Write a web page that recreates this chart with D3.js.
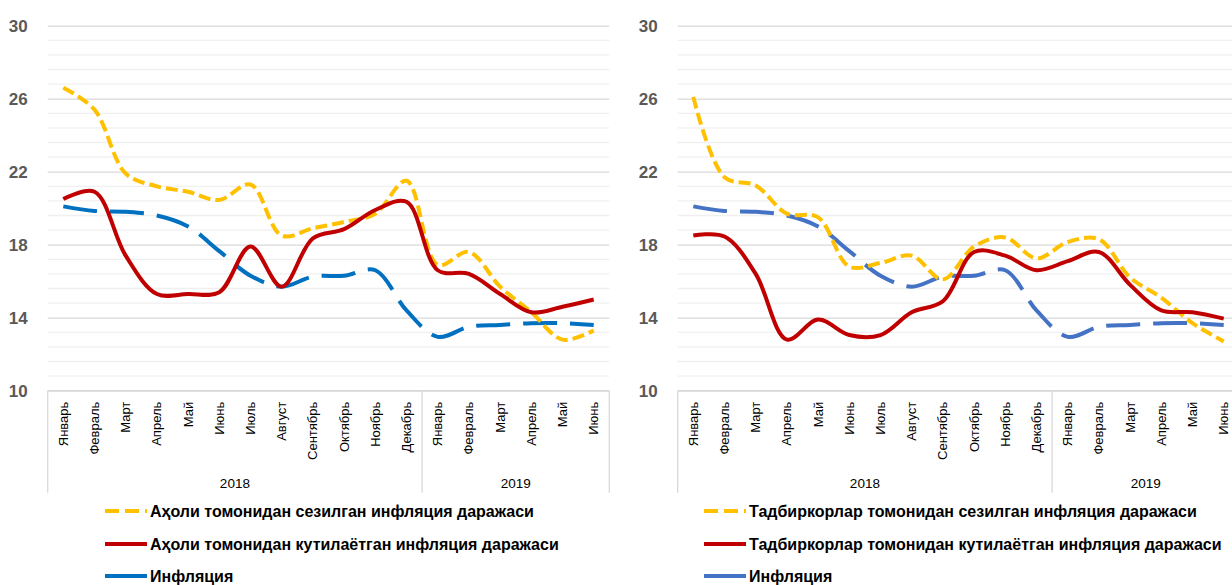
<!DOCTYPE html>
<html>
<head>
<meta charset="utf-8">
<script src="https://cdn.jsdelivr.net/npm/d3@7"></script>
<style>
  html, body { margin: 0; padding: 0; background: #fff; overflow: hidden; }
  svg { display: block; font-family: "Liberation Sans", Arial, sans-serif; }
</style>
</head>
<body>
<svg id="chart" width="1232" height="585"></svg>
<script>
// ---- DATA ----
const months = ["Январь","Февраль","Март","Апрель","Май","Июнь","Июль","Август","Сентябрь","Октябрь","Ноябрь","Декабрь",
                "Январь","Февраль","Март","Апрель","Май","Июнь"];
const yearLabels = ["2018", "2019"];
const yearCounts = [12, 6];
const yTicks = [10, 14, 18, 22, 26, 30];

// Left panel: population
const popPerceived = [26.6, 25.4, 21.9, 21.2, 20.9, 20.45, 21.3, 18.5, 18.9, 19.25, 19.7, 21.5, 16.9, 17.6, 15.7, 14.3, 12.8, 13.3];
const popExpected  = [20.5, 20.9, 17.4, 15.3, 15.3, 15.4, 17.9, 15.7, 18.35, 18.85, 19.9, 20.35, 16.6, 16.4, 15.3, 14.3, 14.6, 15.0];
// Inflation
const inflation    = [20.1, 19.85, 19.8, 19.6, 19.0, 17.65, 16.3, 15.7, 16.25, 16.3, 16.6, 14.4, 12.95, 13.5, 13.6, 13.7, 13.7, 13.6];
// Right panel: entrepreneurs
const bizPerceived = [26.1, 21.7, 21.25, 19.7, 19.5, 16.8, 17.0, 17.4, 16.1, 17.9, 18.4, 17.25, 18.15, 18.3, 16.2, 15.1, 13.7, 12.7];
const bizExpected  = [18.5, 18.45, 16.4, 12.8, 13.9, 13.05, 13.05, 14.3, 14.9, 17.6, 17.4, 16.6, 17.1, 17.6, 15.8, 14.4, 14.3, 13.95];

const leftLegend  = ["Аҳоли томонидан сезилган инфляция даражаси", "Аҳоли томонидан кутилаётган инфляция даражаси", "Инфляция"];
const rightLegend = ["Тадбиркорлар томонидан сезилган инфляция даражаси", "Тадбиркорлар томонидан кутилаётган инфляция даражаси", "Инфляция"];

// ---- DRAW ----
const svg = d3.select("#chart");
svg.append("rect").attr("width", 1232).attr("height", 585).attr("fill", "#fff");

const plotTop = 25.7, plotH = 365, plotW = 561.6;
const y = d3.scaleLinear().domain([10, 30]).range([plotH, 0]);
const x = d3.scaleBand().domain(d3.range(months.length)).range([0, plotW]).padding(0);

function panel(ox, series, legendLabels, legendX, blueColor) {
  const g = svg.append("g").attr("transform", `translate(${ox},${plotTop})`);

  // minor gridlines
  const minor = d3.range(10.8, 30, 0.8).filter(v => Math.abs((v - 10) / 4 - Math.round((v - 10) / 4)) > 0.01);
  g.append("g").selectAll("line").data(minor).join("line")
    .attr("x1", 0).attr("x2", plotW)
    .attr("y1", d => y(d)).attr("y2", d => y(d))
    .attr("stroke", "#f0f0f0").attr("stroke-width", 1.3);

  // y axis with major gridlines
  const yAxis = d3.axisLeft(y).tickValues(yTicks).tickSize(-plotW).tickPadding(20).tickFormat(d3.format("d"));
  const ya = g.append("g").call(yAxis);
  ya.select(".domain").remove();
  ya.selectAll(".tick line").attr("stroke", "#d9d9d9").attr("stroke-width", 1.3);
  ya.selectAll(".tick text").attr("fill", "#595959").attr("font-size", 17).attr("font-weight", "bold")
    .attr("font-family", "'Liberation Sans', Arial, sans-serif");

  // category axis box
  const boxBottom = 467;
  const ax = g.append("g").attr("transform", `translate(0,${plotH})`);
  let acc = 0;
  const bounds = [0];
  yearCounts.forEach(c => { acc += c; bounds.push(acc); });
  ax.selectAll("line.sep").data(bounds).join("line").attr("class", "sep")
    .attr("x1", d => d * x.bandwidth())
    .attr("x2", d => d * x.bandwidth())
    .attr("y1", 0).attr("y2", boxBottom - plotH)
    .attr("stroke", "#d9d9d9").attr("stroke-width", 1.3);
  ax.append("line").attr("x1", 0).attr("x2", plotW).attr("y1", 0).attr("y2", 0)
    .attr("stroke", "#d9d9d9").attr("stroke-width", 1.3);

  ax.selectAll("text.m").data(months).join("text").attr("class", "m")
    .attr("transform", (d, i) => `translate(${x(i) + x.bandwidth() / 2 + 4.5},11) rotate(-90)`)
    .attr("text-anchor", "end")
    .attr("font-size", 13).attr("fill", "#000")
    .text(d => d);

  ax.selectAll("text.yr").data(yearLabels).join("text").attr("class", "yr")
    .attr("x", (d, i) => (bounds[i] + bounds[i + 1]) * x.bandwidth() / 2)
    .attr("y", 97)
    .attr("text-anchor", "middle").attr("font-size", 13.5).attr("fill", "#000")
    .text(d => d);

  // lines
  const line = d3.line()
    .x((d, i) => x(i) + x.bandwidth() / 2)
    .y(d => y(d))
    .curve(d3.curveCatmullRom.alpha(0.5));

  const styles = [
    { color: "#FFC000", dash: "12,5" },
    { color: "#C00000", dash: null },
    { color: blueColor, dash: "34,13" }
  ];
  const order = [2, 0, 1];
  order.forEach(k => {
    g.append("path").datum(series[k])
      .attr("d", line)
      .attr("fill", "none")
      .attr("stroke", styles[k].color)
      .attr("stroke-width", 4)
      .attr("stroke-dasharray", styles[k].dash)
      .attr("stroke-linejoin", "round");
  });

  // legend
  const lg = svg.append("g");
  const rowsY = [511, 544, 576];
  legendLabels.forEach((lab, k) => {
    lg.append("line")
      .attr("x1", legendX).attr("x2", legendX + 42)
      .attr("y1", rowsY[k]).attr("y2", rowsY[k])
      .attr("stroke", styles[k].color).attr("stroke-width", 4)
      .attr("stroke-dasharray", k === 0 ? "14,6" : null);
    lg.append("text")
      .attr("x", legendX + 45).attr("y", rowsY[k]).attr("dy", "0.36em")
      .attr("font-size", 16).attr("font-weight", "bold").attr("fill", "#000")
      .text(lab);
  });
}

panel(47.7, [popPerceived, popExpected, inflation], leftLegend, 105, "#0070C0");
panel(677.7, [bizPerceived, bizExpected, inflation], rightLegend, 704, "#4472C4");
</script>
</body>
</html>
